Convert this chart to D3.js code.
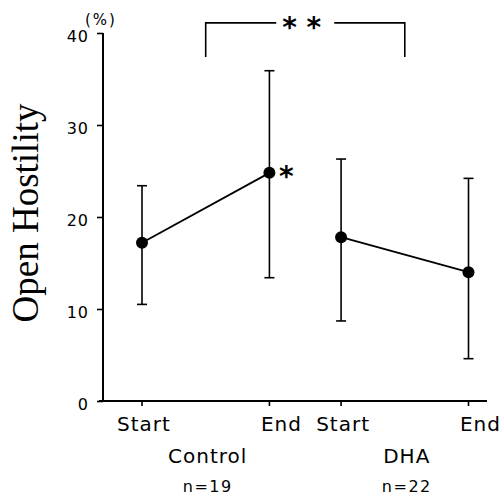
<!DOCTYPE html>
<html>
<head>
<meta charset="utf-8">
<script src="https://cdn.jsdelivr.net/npm/d3@7/dist/d3.min.js"></script>
<style>
  html, body { margin: 0; padding: 0; background: #fff; }
  svg { display: block; }
  .tick text { font-family: "DejaVu Sans", sans-serif; }
</style>
</head>
<body>
<svg id="chart" width="503" height="496"></svg>
<script>
// ---- data ----
const groups = ["Control", "DHA"];
const groupN = ["n=19", "n=22"];
const times = ["Start", "End"];
const means = [[17.2, 24.8], [17.8, 14.0]];
const upper = [[23.4, 35.9], [26.3, 24.2]];
const lower = [[10.5, 13.4], [8.7, 4.6]];
const yTicks = [0, 10, 20, 30, 40];
const sigMarkGroup = "* *";  // between groups
const sigMarkPoint = "*";    // Control End vs Start

// ---- layout ----
const svg = d3.select("#chart");
const yAxisX = 103, baseY = 401;

const y = d3.scaleLinear().domain([0, 40]).range([baseY, 33]);
const xg = d3.scaleBand().domain(groups).range([142, 468.5]).paddingInner(0.36).paddingOuter(0);
const xt = d3.scalePoint().domain(times).range([0, xg.bandwidth()]);
const xpos = (gi, ti) => xg(groups[gi]) + xt(times[ti]);
const gCenter = gi => xg(groups[gi]) + xg.bandwidth() / 2;

// y axis
const yAxis = svg.append("g").attr("transform", `translate(${yAxisX},0)`)
  .call(d3.axisLeft(y).tickValues(yTicks).tickSize(6).tickPadding(8));
yAxis.select(".domain").attr("stroke", "#000").attr("stroke-width", 2).attr("d", `M0,${y(40)}H0V${baseY}`);
yAxis.selectAll(".tick line").attr("stroke-width", 1.6);
yAxis.selectAll(".tick text").attr("font-size", 16).attr("fill", "#000").attr("dy", "0.5em").attr("letter-spacing", 1);

// x axis
svg.append("line").attr("x1", 99).attr("x2", 487).attr("y1", baseY).attr("y2", baseY)
  .attr("stroke", "#000").attr("stroke-width", 2);
const xCats = [];
groups.forEach((g, gi) => times.forEach((t, ti) => xCats.push({gi, ti, label: t})));
svg.append("g").selectAll("line.xt").data(xCats).join("line")
  .attr("x1", d => xpos(d.gi, d.ti)).attr("x2", d => xpos(d.gi, d.ti))
  .attr("y1", baseY).attr("y2", baseY + 5).attr("stroke", "#000").attr("stroke-width", 1.6);
svg.append("g").selectAll("text").data(xCats).join("text")
  .attr("x", d => xpos(d.gi, d.ti) + (d.ti === 1 ? 12 : 2))
  .attr("y", 431).attr("text-anchor", "middle")
  .attr("font-family", "DejaVu Sans, sans-serif").attr("font-size", 20).attr("letter-spacing", 1)
  .text(d => d.label);

// group labels
svg.append("g").selectAll("text").data(groups).join("text")
  .attr("x", (d, i) => gCenter(i) + 2).attr("y", 463).attr("text-anchor", "middle")
  .attr("font-family", "DejaVu Sans, sans-serif").attr("font-size", 20).attr("letter-spacing", 1)
  .text(d => d);
svg.append("g").selectAll("text").data(groupN).join("text")
  .attr("x", (d, i) => gCenter(i) + 2).attr("y", 492).attr("text-anchor", "middle")
  .attr("font-family", "DejaVu Sans, sans-serif").attr("font-size", 16).attr("letter-spacing", 1.5)
  .text(d => d);

// unit and y title
svg.append("text").attr("x", 101).attr("y", 25).attr("text-anchor", "middle")
  .attr("font-family", "DejaVu Sans, sans-serif").attr("font-size", 15).attr("letter-spacing", 2).text("(%)");
svg.append("text").attr("transform", `translate(38,${213}) rotate(-90)`).attr("text-anchor", "middle")
  .attr("font-family", "Liberation Serif, serif").attr("font-size", 37).text("Open Hostility");

// error bars
const pts = [];
groups.forEach((g, gi) => times.forEach((t, ti) => pts.push({gi, ti, m: means[gi][ti], hi: upper[gi][ti], lo: lower[gi][ti]})));
const eb = svg.append("g").attr("stroke", "#000").attr("stroke-width", 1.6);
eb.selectAll("line.v").data(pts).join("line")
  .attr("x1", d => xpos(d.gi, d.ti)).attr("x2", d => xpos(d.gi, d.ti))
  .attr("y1", d => y(d.hi)).attr("y2", d => y(d.lo));
eb.selectAll("line.hc").data(pts).join("line")
  .attr("x1", d => xpos(d.gi, d.ti) - 5).attr("x2", d => xpos(d.gi, d.ti) + 5)
  .attr("y1", d => y(d.hi)).attr("y2", d => y(d.hi));
eb.selectAll("line.lc").data(pts).join("line")
  .attr("x1", d => xpos(d.gi, d.ti) - 5).attr("x2", d => xpos(d.gi, d.ti) + 5)
  .attr("y1", d => y(d.lo)).attr("y2", d => y(d.lo));

// lines
const line = d3.line().x(d => xpos(d.gi, d.ti)).y(d => y(d.m));
groups.forEach((g, gi) => {
  svg.append("path").datum(pts.filter(p => p.gi === gi)).attr("d", line)
    .attr("fill", "none").attr("stroke", "#000").attr("stroke-width", 1.8);
});
svg.append("g").selectAll("circle").data(pts).join("circle")
  .attr("cx", d => xpos(d.gi, d.ti)).attr("cy", d => y(d.m)).attr("r", 6).attr("fill", "#000");

// significance
const ctrlEnd = pts.find(p => p.gi === 0 && p.ti === 1);
svg.append("text").attr("x", xpos(0, 1) + 17).attr("y", y(ctrlEnd.m) + 13.5).attr("text-anchor", "middle")
  .attr("font-family", "DejaVu Sans, sans-serif").attr("font-size", 28).attr("font-weight", "bold").text(sigMarkPoint);

const bTop = 41.1, bBot = 37.4;
const c0 = gCenter(0), c1 = gCenter(1), cm = (c0 + c1) / 2, gap = 29;
const br = svg.append("g").attr("stroke", "#000").attr("stroke-width", 1.6).attr("fill", "none");
br.append("path").attr("d", `M${c0},${y(bBot)}V${y(bTop)}H${cm - gap}`);
br.append("path").attr("d", `M${cm + gap},${y(bTop)}H${c1}V${y(bBot)}`);
svg.append("text").attr("x", cm - 3.5).attr("y", y(bTop) + 14.5).attr("text-anchor", "middle")
  .attr("font-family", "DejaVu Sans, sans-serif").attr("font-size", 28).attr("font-weight", "bold")
  .attr("xml:space", "preserve").text(sigMarkGroup);
</script>
</body>
</html>
